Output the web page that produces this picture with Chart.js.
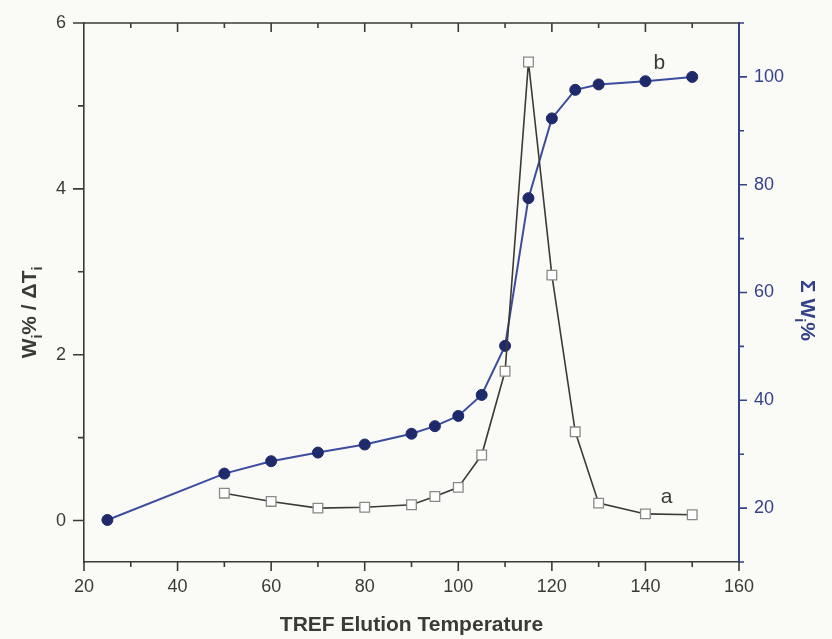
<!DOCTYPE html>
<html>
<head>
<meta charset="utf-8">
<script src="https://cdn.jsdelivr.net/npm/chart.js@4.4.1/dist/chart.umd.min.js"></script>
<style>
  html, body { margin: 0; padding: 0; background: #fafaf7; }
  #wrap { width: 832px; height: 639px; }
</style>
</head>
<body>
<div id="wrap"><canvas id="myChart" width="832" height="639"></canvas></div>
<script>
// curve a: W%/dT against temperature (left axis)
const tempsA = [50, 60, 70, 80, 90, 95, 100, 105, 110, 115, 120, 125, 130, 140, 150];
const wPerDT = [0.33, 0.23, 0.15, 0.16, 0.19, 0.29, 0.40, 0.79, 1.80, 5.53, 2.96, 1.07, 0.21, 0.08, 0.07];

// curve b: cumulative W% (right axis)
const tempsB = [25, 50, 60, 70, 80, 90, 95, 100, 105, 110, 115, 120, 125, 130, 140, 150];
const cumW = [17.8, 26.4, 28.7, 30.3, 31.8, 33.8, 35.2, 37.1, 41.0, 50.1, 77.5, 92.3, 97.6, 98.6, 99.2, 100.0];

const xTicks = [20, 40, 60, 80, 100, 120, 140, 160];
const xMinor = [30, 50, 70, 90, 110, 130, 150];
const yTicks = [0, 2, 4, 6];
const yMinor = [1, 3, 5];
const y1Ticks = [20, 40, 60, 80, 100];
const y1Minor = [10, 30, 50, 70, 90, 110];

const gray = '#3b3b35';
const navy = '#34428a';
const dotNavy = '#1e2a6a';

function drawRich(ctx, parts, cx, cy, rot, size, color) {
  ctx.save();
  ctx.translate(cx, cy);
  ctx.rotate(rot);
  ctx.fillStyle = color;
  ctx.textBaseline = 'alphabetic';
  let total = 0;
  parts.forEach(p => {
    ctx.font = 'bold ' + (p.sub ? Math.round(size * 0.65) : size) + 'px "Liberation Sans", Arial, sans-serif';
    p.w = ctx.measureText(p.t).width;
    total += p.w;
  });
  let x = -total / 2;
  parts.forEach(p => {
    ctx.font = 'bold ' + (p.sub ? Math.round(size * 0.65) : size) + 'px "Liberation Sans", Arial, sans-serif';
    ctx.fillText(p.t, x, size * 0.36 + (p.sub ? size * 0.3 : 0));
    x += p.w;
  });
  ctx.restore();
}

const frame = {
  id: 'frame',
  beforeDraw(chart) {
    const ctx = chart.ctx;
    ctx.save();
    ctx.fillStyle = '#fafaf7';
    ctx.fillRect(0, 0, chart.width, chart.height);
    ctx.restore();
  },
  afterDraw(chart) {
    const {ctx, chartArea: a, scales} = chart;
    const x = scales.x, y = scales.y, y1 = scales.y1;
    ctx.save();
    ctx.lineWidth = 1.6;
    ctx.strokeStyle = gray;
    // top frame line
    ctx.beginPath();
    ctx.moveTo(a.left, a.top);
    ctx.lineTo(a.right, a.top);
    ctx.stroke();
    ctx.beginPath();
    // bottom ticks (out) and top ticks (in)
    xTicks.concat(xMinor).forEach(v => {
      const px = x.getPixelForValue(v);
      const len = xTicks.includes(v) ? 9 : 5;
      ctx.moveTo(px, a.bottom); ctx.lineTo(px, a.bottom + len);
      if (v > 20 && v < 160) {
        ctx.moveTo(px, a.top); ctx.lineTo(px, a.top + len);
      }
    });
    // left ticks (out)
    yTicks.concat(yMinor).forEach(v => {
      const py = y.getPixelForValue(v);
      const len = yTicks.includes(v) ? 11 : 6;
      ctx.moveTo(a.left, py); ctx.lineTo(a.left - len, py);
    });
    ctx.stroke();
    // right ticks (out), navy
    ctx.strokeStyle = navy;
    ctx.beginPath();
    y1Ticks.concat(y1Minor).forEach(v => {
      const py = y1.getPixelForValue(v);
      const len = y1Ticks.includes(v) ? 8 : 5;
      ctx.moveTo(a.right, py); ctx.lineTo(a.right + len, py);
    });
    ctx.stroke();

    // axis titles with subscripts
    const mid = (a.top + a.bottom) / 2;
    drawRich(ctx, [{t: 'W'}, {t: 'i', sub: true}, {t: '% / \u0394T'}, {t: 'i', sub: true}],
      28, mid + 20, -Math.PI / 2, 21, gray);
    drawRich(ctx, [{t: '\u03A3 W'}, {t: 'i', sub: true}, {t: '%'}],
      809, mid + 18, Math.PI / 2, 21, navy);

    // curve labels
    ctx.fillStyle = gray;
    ctx.font = '21px "Liberation Sans", Arial, sans-serif';
    ctx.textAlign = 'center';
    ctx.textBaseline = 'middle';
    ctx.fillText('a', x.getPixelForValue(144.5), y.getPixelForValue(0.28));
    ctx.fillText('b', x.getPixelForValue(143), y1.getPixelForValue(102.6));
    ctx.restore();
  }
};

new Chart('myChart', {
  type: 'line',
  data: {
    datasets: [{
      label: 'a',
      data: tempsA.map((t, i) => ({x: t, y: wPerDT[i]})),
      yAxisID: 'y',
      borderColor: gray,
      borderWidth: 1.6,
      pointStyle: 'rect',
      pointRadius: 6.8,
      pointBackgroundColor: '#ffffff',
      pointBorderColor: '#8a8a84',
      pointBorderWidth: 1.3,
      tension: 0
    }, {
      label: 'b',
      data: tempsB.map((t, i) => ({x: t, y: cumW[i]})),
      yAxisID: 'y1',
      borderColor: '#3d4d9e',
      borderWidth: 2,
      pointStyle: 'circle',
      pointRadius: 5.5,
      pointBackgroundColor: dotNavy,
      pointBorderColor: dotNavy,
      pointBorderWidth: 1,
      tension: 0
    }]
  },
  options: {
    responsive: false,
    animation: false,
    layout: { padding: { top: 23, left: 0, right: 0, bottom: 0 } },
    plugins: { legend: { display: false }, tooltip: { enabled: false } },
    scales: {
      x: {
        type: 'linear',
        min: 20, max: 160,
        afterFit: s => { s.height = 77; s.paddingLeft = 0; s.paddingRight = 0; },
        afterBuildTicks: s => { s.ticks = xTicks.map(v => ({value: v})); },
        grid: { display: false, drawTicks: false },
        border: { display: true, color: gray, width: 1.6 },
        ticks: { color: gray, padding: 14, maxRotation: 0, font: { family: '"Liberation Sans", Arial, sans-serif', size: 18 } },
        title: { display: true, text: 'TREF Elution Temperature', color: gray,
          font: { family: '"Liberation Sans", Arial, sans-serif', size: 21, weight: 'bold' },
          padding: { top: 0, bottom: 1 } }
      },
      y: {
        position: 'left',
        min: -0.5, max: 6,
        afterFit: s => { s.width = 84; s.paddingTop = 0; s.paddingBottom = 0; },
        afterBuildTicks: s => { s.ticks = yTicks.map(v => ({value: v})); },
        grid: { display: false, drawTicks: false },
        border: { display: true, color: gray, width: 1.6 },
        ticks: { color: gray, padding: 18, font: { family: '"Liberation Sans", Arial, sans-serif', size: 18 } }
      },
      y1: {
        position: 'right',
        min: 10, max: 110,
        afterFit: s => { s.width = 93; s.paddingTop = 0; s.paddingBottom = 0; },
        afterBuildTicks: s => { s.ticks = y1Ticks.map(v => ({value: v})); },
        grid: { display: false, drawTicks: false },
        border: { display: true, color: navy, width: 2 },
        ticks: { color: navy, padding: 15, font: { family: '"Liberation Sans", Arial, sans-serif', size: 18 } }
      }
    }
  },
  plugins: [frame]
});
</script>
</body>
</html>
